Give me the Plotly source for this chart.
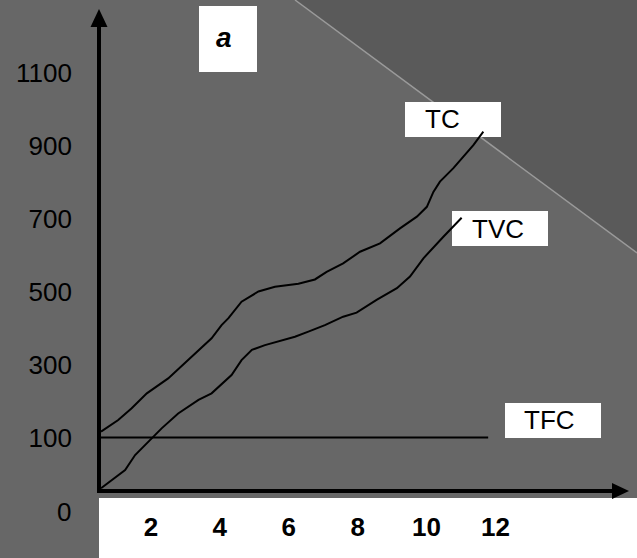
import plotly.graph_objects as go

# ---- data ----
tc_q = [0.55, 1.05, 1.44, 1.88, 2.50, 3.08, 3.76, 4.05, 4.25, 4.63, 5.12, 5.60, 6.28,
        6.76, 7.10, 7.58, 8.07, 8.65, 9.23, 9.72, 10.01, 10.20, 10.39, 10.78, 11.36, 11.65]
tc_cost = [116, 148, 180, 221, 262, 312, 372, 408, 427, 472, 500, 513, 521,
           533, 554, 577, 609, 632, 673, 705, 732, 773, 801, 838, 901, 938]

tvc_q = [0.55, 1.25, 1.54, 1.92, 2.31, 2.79, 3.38, 3.76, 4.34, 4.63, 4.93, 5.31,
         6.18, 6.57, 7.05, 7.58, 7.97, 8.55, 9.14, 9.52, 9.91, 10.49, 10.78, 11.02]
tvc_cost = [-39, 11, 52, 88, 125, 166, 203, 221, 271, 312, 340, 353,
            376, 390, 408, 431, 442, 477, 509, 541, 591, 650, 678, 702]

tfc_q = [0.52, 11.79]
tfc_cost = [100, 100]

x_tick_vals = [2, 4, 6, 8, 10, 12]
x_tick_text = ["2", "4", "6", "8", "10", "12"]
y_tick_vals = [100, 300, 500, 700, 900, 1100]
y_tick_text = ["100", "300", "500", "700", "900", "1100"]

# ---- layout geometry ----
W, H = 637, 558
ML, MR, MT, MB = 100, 0, 0, 68
PW, PH = W - ML - MR, H - MT - MB

def pxx(x):
    return (x - ML) / PW

def pxy(y):
    return (H - MB - y) / PH

FONT = "Liberation Sans, Arial, sans-serif"
BG = "#676767"
DARK = "#5a5a5a"

fig = go.Figure()
line_style = dict(color="black", width=2)
fig.add_trace(go.Scatter(x=tc_q, y=tc_cost, mode="lines", line=line_style, name="TC"))
fig.add_trace(go.Scatter(x=tvc_q, y=tvc_cost, mode="lines", line=line_style, name="TVC"))
fig.add_trace(go.Scatter(x=tfc_q, y=tfc_cost, mode="lines", line=line_style, name="TFC"))

shapes = []
# darker upper-right triangle
shapes.append(dict(type="path", xref="paper", yref="paper", layer="below",
                   path=f"M {pxx(295)},{pxy(0)} L {pxx(637)},{pxy(0)} L {pxx(637)},{pxy(253)} Z",
                   fillcolor=DARK, line=dict(width=0)))
shapes.append(dict(type="line", xref="paper", yref="paper", layer="below",
                   x0=pxx(295), y0=pxy(0), x1=pxx(637), y1=pxy(253),
                   line=dict(color="#9a9a9a", width=1.5)))
# white strip under the x axis
shapes.append(dict(type="rect", xref="paper", yref="paper", layer="below",
                   x0=pxx(99), y0=pxy(498), x1=pxx(637), y1=pxy(558),
                   fillcolor="white", line=dict(width=0)))
# label boxes
for (x0, y0, x1, y1) in [(199, 6, 257, 72), (405, 102, 501, 137),
                         (452, 211, 548, 246), (505, 403, 601, 438)]:
    shapes.append(dict(type="rect", xref="paper", yref="paper", layer="below",
                       x0=pxx(x0), y0=pxy(y0), x1=pxx(x1), y1=pxy(y1),
                       fillcolor="white", line=dict(width=0)))
# axes with arrows
shapes.append(dict(type="line", xref="paper", yref="paper", layer="above",
                   x0=pxx(99), y0=pxy(493), x1=pxx(99), y1=pxy(22),
                   line=dict(color="black", width=4)))
shapes.append(dict(type="path", xref="paper", yref="paper", layer="above",
                   path=f"M {pxx(90.5)},{pxy(27)} L {pxx(107.5)},{pxy(27)} L {pxx(99)},{pxy(9)} Z",
                   fillcolor="black", line=dict(width=0)))
shapes.append(dict(type="line", xref="paper", yref="paper", layer="above",
                   x0=pxx(97), y0=pxy(491), x1=pxx(615), y1=pxy(491),
                   line=dict(color="black", width=4)))
shapes.append(dict(type="path", xref="paper", yref="paper", layer="above",
                   path=f"M {pxx(612)},{pxy(483)} L {pxx(612)},{pxy(499)} L {pxx(629)},{pxy(491)} Z",
                   fillcolor="black", line=dict(width=0)))

annotations = []
def label(text, cx, cy, size=26, bold=False, italic=False, xanchor="center"):
    t = text
    if bold:
        t = f"<b>{t}</b>"
    if italic:
        t = f"<i>{t}</i>"
    annotations.append(dict(text=t, xref="paper", yref="paper", x=pxx(cx), y=pxy(cy),
                            xanchor=xanchor, yanchor="middle", showarrow=False,
                            font=dict(family=FONT, size=size, color="black")))

label("a", 224, 37, size=28, bold=True, italic=True)
label("TC", 442, 119)
label("TVC", 498, 229)
label("TFC", 549, 420)
label("0", 73, 512, size=26, xanchor="right")

fig.update_layout(
    width=W, height=H,
    margin=dict(l=ML, r=MR, t=MT, b=MB, pad=0),
    paper_bgcolor=BG, plot_bgcolor=BG,
    showlegend=False,
    shapes=shapes, annotations=annotations,
    xaxis=dict(range=[0.5206, 16.111], tickvals=x_tick_vals, ticktext=x_tick_text,
               showgrid=False, zeroline=False, showline=False, ticks="",
               ticklabelstandoff=19,
               tickfont=dict(family=FONT, size=26, color="black", weight="bold")),
    yaxis=dict(range=[-43.8, 1298.6], tickvals=y_tick_vals, ticktext=y_tick_text,
               showgrid=False, zeroline=False, showline=False, ticks="",
               ticklabelstandoff=27,
               tickfont=dict(family=FONT, size=26, color="black")),
)

fig.write_html("out.html", config={"displayModeBar": False},
               post_script="document.body.style.margin='0';")
